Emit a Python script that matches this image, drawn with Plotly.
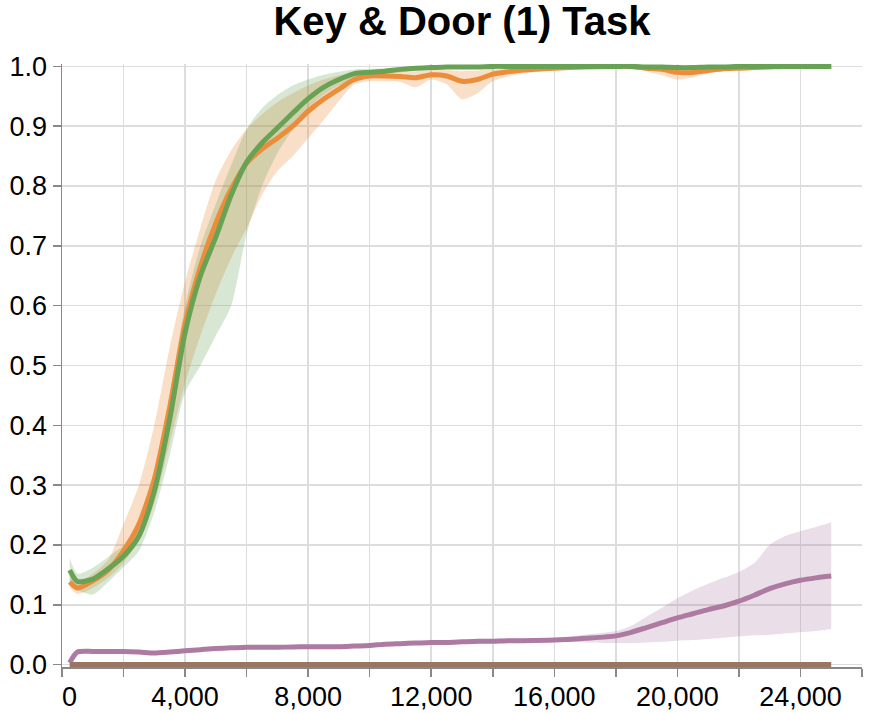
import plotly.graph_objects as go

steps = [250, 500, 1000, 1500, 2000, 2500, 3000, 3500, 4000, 4500, 5000, 5500, 6000, 6500,
         7000, 7500, 8000, 8500, 9000, 9500, 10000, 10500, 11000, 11500, 12000, 12500, 13000,
         13500, 14000, 14500, 15000, 16000, 17000, 18000, 18500, 19000, 19500, 20000, 20500,
         21000, 21500, 22000, 22500, 23000, 23500, 24000, 24500, 25000]

orange_mean = [0.138, 0.128, 0.140, 0.158, 0.190, 0.235, 0.310, 0.430, 0.570, 0.665, 0.738, 0.795,
               0.838, 0.862, 0.880, 0.900, 0.925, 0.945, 0.962, 0.978, 0.984, 0.984, 0.983, 0.981,
               0.986, 0.984, 0.975, 0.978, 0.987, 0.991, 0.994, 0.997, 0.999, 1.000, 1.000, 0.997,
               0.995, 0.990, 0.990, 0.993, 0.996, 0.997, 0.998, 0.999, 1.000, 1.000, 1.000, 1.000]
orange_low = [0.128, 0.118, 0.128, 0.145, 0.170, 0.210, 0.270, 0.370, 0.470, 0.550, 0.620, 0.680,
              0.730, 0.785, 0.825, 0.850, 0.880, 0.910, 0.942, 0.970, 0.975, 0.975, 0.974, 0.965,
              0.978, 0.970, 0.945, 0.955, 0.975, 0.983, 0.988, 0.994, 0.997, 0.999, 0.998, 0.992,
              0.985, 0.978, 0.982, 0.988, 0.993, 0.995, 0.997, 0.998, 0.999, 0.999, 0.999, 0.999]
orange_high = [0.148, 0.138, 0.152, 0.175, 0.235, 0.300, 0.400, 0.530, 0.640, 0.730, 0.810, 0.860,
               0.895, 0.920, 0.940, 0.955, 0.968, 0.978, 0.985, 0.990, 0.992, 0.992, 0.992, 0.992,
               0.994, 0.994, 0.992, 0.993, 0.996, 0.998, 0.999, 1.000, 1.000, 1.000, 1.000, 1.000,
               0.999, 0.998, 0.998, 0.999, 1.000, 1.000, 1.000, 1.000, 1.000, 1.000, 1.000, 1.000]

green_mean = [0.158, 0.139, 0.143, 0.160, 0.181, 0.215, 0.290, 0.410, 0.555, 0.650, 0.715, 0.785,
              0.840, 0.872, 0.897, 0.922, 0.946, 0.965, 0.978, 0.988, 0.990, 0.992, 0.995, 0.997,
              0.998, 0.999, 0.999, 0.999, 1.000, 1.000, 1.000, 1.000, 1.000, 1.000, 1.000, 0.999,
              0.999, 0.998, 0.998, 0.999, 0.999, 1.000, 1.000, 1.000, 1.000, 1.000, 1.000, 1.000]
green_low = [0.140, 0.125, 0.117, 0.138, 0.163, 0.190, 0.255, 0.350, 0.455, 0.500, 0.550, 0.600,
             0.720, 0.800, 0.855, 0.895, 0.930, 0.952, 0.968, 0.978, 0.984, 0.987, 0.990, 0.993,
             0.995, 0.997, 0.998, 0.999, 0.999, 0.999, 0.999, 0.999, 0.999, 0.999, 0.999, 0.998,
             0.997, 0.996, 0.996, 0.997, 0.998, 0.999, 0.999, 0.999, 0.999, 0.999, 0.999, 0.999]
green_high = [0.178, 0.152, 0.162, 0.180, 0.200, 0.240, 0.320, 0.450, 0.600, 0.700, 0.770, 0.835,
              0.895, 0.930, 0.952, 0.968, 0.978, 0.986, 0.991, 0.995, 0.996, 0.997, 0.998, 0.999,
              1.000, 1.000, 1.000, 1.000, 1.000, 1.000, 1.000, 1.000, 1.000, 1.000, 1.000, 1.000,
              1.000, 1.000, 1.000, 1.000, 1.000, 1.000, 1.000, 1.000, 1.000, 1.000, 1.000, 1.000]

purple_mean = [0.003, 0.021, 0.022, 0.022, 0.022, 0.021, 0.0195, 0.021, 0.023, 0.025, 0.027, 0.028,
               0.029, 0.029, 0.029, 0.0295, 0.030, 0.030, 0.030, 0.031, 0.032, 0.034, 0.035, 0.036,
               0.037, 0.037, 0.038, 0.039, 0.039, 0.040, 0.040, 0.041, 0.044, 0.048, 0.054, 0.062,
               0.070, 0.078, 0.085, 0.092, 0.098, 0.106, 0.116, 0.127, 0.135, 0.141, 0.145, 0.148]
purple_low = [0.001, 0.019, 0.020, 0.020, 0.020, 0.019, 0.018, 0.019, 0.021, 0.023, 0.025, 0.026,
              0.027, 0.027, 0.027, 0.027, 0.028, 0.028, 0.028, 0.029, 0.030, 0.031, 0.032, 0.033,
              0.034, 0.034, 0.035, 0.035, 0.036, 0.036, 0.037, 0.038, 0.037, 0.036, 0.036, 0.037,
              0.038, 0.040, 0.041, 0.043, 0.045, 0.047, 0.049, 0.050, 0.052, 0.054, 0.056, 0.060]
purple_high = [0.005, 0.023, 0.024, 0.024, 0.024, 0.023, 0.022, 0.023, 0.025, 0.027, 0.029, 0.030,
               0.031, 0.031, 0.031, 0.032, 0.032, 0.032, 0.033, 0.034, 0.035, 0.037, 0.038, 0.039,
               0.040, 0.040, 0.041, 0.042, 0.043, 0.044, 0.044, 0.045, 0.050, 0.056, 0.065, 0.080,
               0.095, 0.111, 0.124, 0.135, 0.145, 0.155, 0.170, 0.200, 0.215, 0.223, 0.230, 0.238]

brown_mean = [0.0] * len(steps)

x_tick_vals = list(range(0, 26001, 2000))
x_tick_text = ["\u00a0\u00a00", "", "4,000", "", "8,000", "", "12,000", "", "16,000", "",
               "20,000", "", "24,000", ""]
y_tick_vals = [i / 10 for i in range(11)]
y_tick_text = ["0.0", "0.1", "0.2", "0.3", "0.4", "0.5", "0.6", "0.7", "0.8", "0.9", "1.0"]

title_text = "Key & Door (1) Task"

ORANGE = "#eb8d3a"
GREEN = "#68a255"
PURPLE = "#ad7aa2"
BROWN = "#9a7660"
SMOOTH = 0.7

FIG_W, FIG_H = 872, 713


def band(x, low, high, rgba):
    return [
        go.Scatter(x=x, y=low, mode="lines", line=dict(width=0, shape="spline", smoothing=SMOOTH),
                   hoverinfo="skip", showlegend=False),
        go.Scatter(x=x, y=high, mode="lines", line=dict(width=0, shape="spline", smoothing=SMOOTH),
                   fill="tonexty", fillcolor=rgba, hoverinfo="skip", showlegend=False),
    ]


def mean_line(x, y, color):
    return go.Scatter(x=x, y=y, mode="lines",
                      line=dict(color=color, width=5, shape="spline", smoothing=SMOOTH),
                      showlegend=False)


fig = go.Figure()
for tr in band(steps, orange_low, orange_high, "rgba(235,141,58,0.28)"):
    fig.add_trace(tr)
for tr in band(steps, green_low, green_high, "rgba(104,162,85,0.26)"):
    fig.add_trace(tr)
for tr in band(steps, purple_low, purple_high, "rgba(173,122,162,0.25)"):
    fig.add_trace(tr)

fig.add_trace(mean_line(steps, purple_mean, PURPLE))
fig.add_trace(mean_line(steps, orange_mean, ORANGE))
fig.add_trace(mean_line(steps, green_mean, GREEN))
fig.add_trace(go.Scatter(x=steps, y=brown_mean, mode="lines",
                         line=dict(color=BROWN, width=5), showlegend=False))

FONT = "Liberation Sans, Arial, Helvetica, sans-serif"

fig.update_layout(
    width=FIG_W, height=FIG_H,
    margin=dict(l=62, r=10, t=63.6, b=45.6, pad=0, autoexpand=False),
    plot_bgcolor="white", paper_bgcolor="white",
    font=dict(family=FONT, size=27, color="black"),
    title=dict(text="<b>" + title_text + "</b>", x=462 / FIG_W, xanchor="center",
               y=1 - 21 / FIG_H, yanchor="middle", yref="container",
               font=dict(family=FONT, size=40, color="black")),
    showlegend=False,
    hovermode=False,
)
fig.update_xaxes(
    range=[0, 26000], tickmode="array", tickvals=x_tick_vals, ticktext=x_tick_text,
    showgrid=True, gridcolor="#dddddd", gridwidth=1.5,
    showline=True, linecolor="#888888", linewidth=1.5,
    ticks="outside", ticklen=8, tickcolor="#888888", tickwidth=1.5,
    zeroline=False, tickfont=dict(size=27, color="black"), automargin=False,
    ticklabelstandoff=-3,
)
fig.update_yaxes(
    range=[-0.004, 1.004], tickmode="array", tickvals=y_tick_vals, ticktext=y_tick_text,
    showgrid=True, gridcolor="#dddddd", gridwidth=1.5,
    showline=True, linecolor="#888888", linewidth=1.5,
    ticks="outside", ticklen=8, tickcolor="#888888", tickwidth=1.5,
    zeroline=False, tickfont=dict(size=27, color="black"), ticklabelstandoff=0,
    automargin=False,
)

fig.write_html(
    "out.html",
    config={"displayModeBar": False, "staticPlot": True},
    post_script="document.body.style.margin='0';document.body.style.overflow='hidden';",
)
